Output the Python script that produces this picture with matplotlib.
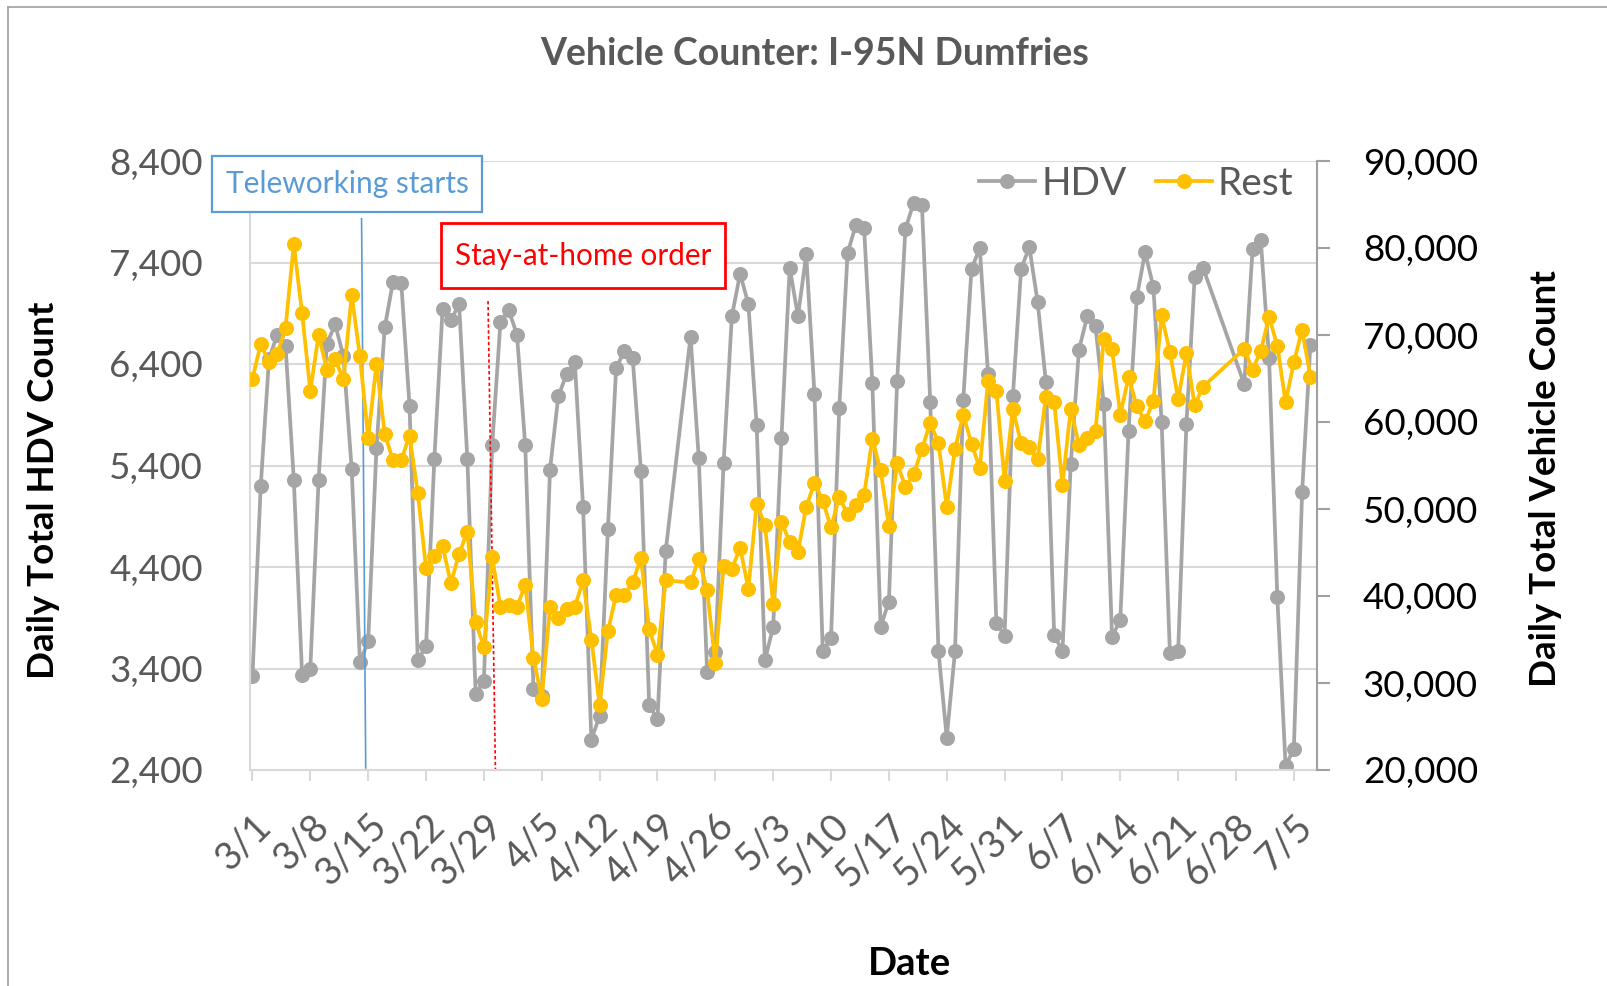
import pandas as pd
import numpy as np
import matplotlib
matplotlib.use("Agg")
import matplotlib.pyplot as plt
from matplotlib.lines import Line2D
from matplotlib.patches import Rectangle

plt.rcParams['font.family'] = ['Lato', 'DejaVu Sans']

# ===== data =====
start = pd.Timestamp("2020-03-01")
missing = ["2020-04-21", "2020-04-22", "2020-06-25", "2020-06-26", "2020-06-27", "2020-06-28"]

hdv = [3330, 5200, 6450, 6690, 6580, 5260, 3340, 3400, 5260, 6600,
       6790, 6480, 5370, 3460, 3670, 5570, 6760, 7210, 7200, 5990,
       3480, 3620, 5460, 6940, 6830, 6990, 5460, 3150, 3280, 5600,
       6810, 6930, 6690, 5600, 3200, 3130, 5360, 6080, 6300, 6420,
       4990, 2700, 2930, 4770, 6360, 6530, 6460, 5350, 3040, 2900,
       4560, 6670, 5470, 3370, 3560, 5420, 6870, 7290, 6990, 5800,
       3480, 3810, 5670, 7350, 6870, 7480, 6100, 3570, 3700, 5970,
       7490, 7770, 7740, 6210, 3810, 4060, 6230, 7730, 7990, 7970,
       6030, 3570, 2720, 3570, 6050, 7340, 7540, 6300, 3850, 3720,
       6080, 7340, 7550, 7010, 6220, 3730, 3570, 5410, 6540, 6870,
       6770, 6010, 3710, 3880, 5740, 7060, 7500, 7160, 5830, 3550,
       3570, 5810, 7260, 7350, 6200, 7530, 7620, 6460, 4100, 2440,
       2610, 5140, 6590]

rest = [65000, 68970, 66860, 67800, 70840, 80450, 72480, 63580, 70000, 66020,
        67190, 64890, 74590, 67560, 58190, 66630, 58660, 55610, 55610, 58430,
        51860, 43200, 44600, 45770, 41460, 44840, 47410, 37010, 34150, 44460,
        38740, 38980, 38740, 41320, 32890, 28200, 38740, 37480, 38510, 38740,
        41790, 35000, 27500, 35930, 40150, 40060, 41560, 44370, 36170, 33260,
        41790, 41560, 44230, 40710, 32320, 43430, 43100, 45540, 40850, 50550,
        48210, 39120, 48490, 46240, 45070, 50230, 53040, 50930, 47880, 51400,
        49380, 50460, 51630, 58050, 54440, 48020, 55240, 52570, 53970, 56880,
        59930, 57580, 50230, 56880, 60860, 57490, 54680, 64750, 63580, 53270,
        61470, 57580, 57110, 55710, 62880, 62310, 52800, 61470, 57390, 58190,
        58990, 69580, 68360, 60860, 65130, 61800, 60070, 62410, 72250, 68030,
        62640, 67890, 61940, 64050, 68410, 66020, 68170, 72110, 68740, 62270,
        66860, 70610, 65220]

dates = pd.date_range(start, "2020-07-07").drop(pd.to_datetime(missing))
day = np.array((dates - start).days)

tick_days = np.arange(0, 127, 7)
tick_labels = [f"{d.month}/{d.day}" for d in (start + pd.to_timedelta(tick_days, unit="D"))]

telework_day = 13.4
stay_home_day = 29.0

# ===== plot =====
gray = "#a5a5a5"
gold = "#ffc000"
txt = "#595959"
LW, MS = 2.7, 9.8

fig = plt.figure(figsize=(16.08, 9.86), dpi=100)
ax = fig.add_axes([250 / 1608, 1 - 770 / 986, (1317 - 250) / 1608, (770 - 161) / 986])
ax2 = ax.twinx()

ax.plot(day, hdv, color=gray, lw=LW, marker="o", ms=MS, label="HDV")
ax2.plot(day, rest, color=gold, lw=LW, marker="o", ms=MS, label="Rest")

ax.set_xlim(-0.3, 128.8)
ax.set_ylim(2400, 8400)
ax.set_yticks(np.arange(2400, 8401, 1000))
ax.set_yticklabels([f"{v:,}" for v in range(2400, 8401, 1000)])
ax2.set_ylim(20000, 90000)
ax2.set_yticks(np.arange(20000, 90001, 10000))
ax2.set_yticklabels([f"{v:,}" for v in range(20000, 90001, 10000)])

ax.set_xticks(tick_days)
ax.set_xticklabels(tick_labels, rotation=45, ha="right", va="top", rotation_mode="anchor")

ax.grid(axis="y", color="#d9d9d9", lw=1.5)
ax.set_axisbelow(True)
for s in ["top", "right"]:
    ax.spines[s].set_visible(False)
for s in ["top", "left", "bottom"]:
    ax2.spines[s].set_visible(False)
ax.spines["left"].set_color("#d9d9d9")
ax.spines["left"].set_linewidth(1.5)
ax.spines["bottom"].set_color("#d9d9d9")
ax.spines["bottom"].set_linewidth(1.5)
ax2.spines["right"].set_color("#a0a0a0")
ax2.spines["right"].set_linewidth(1.5)

ax.tick_params(axis="y", length=0, labelsize=26.5, labelcolor=txt, pad=34)
ax.tick_params(axis="x", length=8, width=1.5, color="#d9d9d9", labelsize=27.5,
               labelcolor=txt, pad=19)
ax2.tick_params(axis="y", length=9, width=1.5, color="#a0a0a0", labelsize=26.5,
                labelcolor="#000000", pad=24)

ax.set_ylabel("Daily Total HDV Count", fontsize=26.5, fontweight="bold", va="center")
ax.yaxis.set_label_coords(-0.194, 0.46)
ax2.set_ylabel("Daily Total Vehicle Count", fontsize=26.5, fontweight="bold", va="center")
ax2.yaxis.set_label_coords(1.214, 0.479)
ax.set_xlabel("Date", fontsize=27.5, fontweight="bold", va="center")
ax.xaxis.set_label_coords(0.618, -0.3186)

# event lines
ax.plot([telework_day - 0.2, telework_day + 0.3], [7830, 2420], color="#5b9bd5", lw=1.2)
ax.plot([stay_home_day - 0.5, stay_home_day + 0.4], [7020, 2380], color="#ff0000",
        lw=1.2, ls=(0, (2, 1.5)), clip_on=False)

# annotation boxes (figure pixels)
def fbox(x0, y0, x1, y1, color, lw, text, size):
    fig.patches.append(Rectangle((x0 / 1608, 1 - y1 / 986), (x1 - x0) / 1608, (y1 - y0) / 986,
                                 transform=fig.transFigure, fill=True, facecolor="white",
                                 edgecolor=color, lw=lw, zorder=5))
    fig.text((x0 + x1) / 2 / 1608, 1 - (y0 + y1) / 2 / 986, text, color=color,
             fontsize=size, ha="center", va="center", zorder=6)

fbox(212, 156, 482, 212, "#5b9bd5", 1.6, "Teleworking starts", 21.5)
fbox(441, 223, 725, 288, "#ff0000", 2.0, "Stay-at-home order", 21.3)

# legend
handles = [Line2D([], [], color=gray, lw=LW, marker="o", ms=MS),
           Line2D([], [], color=gold, lw=LW, marker="o", ms=MS)]
ax2.legend(handles, ["HDV", "Rest"], loc="center right", bbox_to_anchor=(0.978, 0.963),
           ncol=2, frameon=False, fontsize=28, labelcolor=txt, handlelength=1.45,
           handletextpad=0.15, columnspacing=0.75, borderaxespad=0, borderpad=0)

fig.suptitle("Vehicle Counter: I-95N Dumfries", x=815 / 1608, y=1 - 54 / 986,
             va="center", fontsize=27, fontweight="bold", color=txt)

# chart area border (top and left edges visible)
fig.add_artist(Line2D([8 / 1608, 8 / 1608], [0, 1 - 7 / 986], transform=fig.transFigure,
                      color="#a0a0a0", lw=1.2))
fig.add_artist(Line2D([8 / 1608, 1], [1 - 7 / 986, 1 - 7 / 986], transform=fig.transFigure,
                      color="#a0a0a0", lw=1.2))

fig.savefig("out.png", dpi=100)
